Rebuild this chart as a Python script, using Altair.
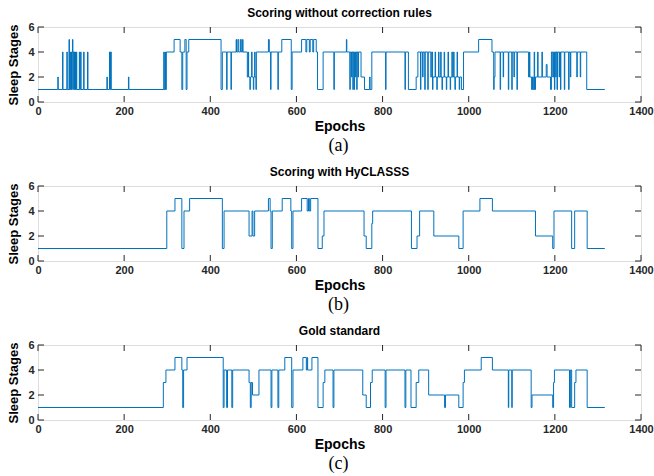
import altair as alt
import pandas as pd

# ---------------- data ----------------
END_EPOCH = 1316

titles = ["Scoring without correction rules", "Scoring with HyCLASSS", "Gold standard"]
captions = ["(a)", "(b)", "(c)"]

a_epochs = [0, 46, 47, 57, 58, 67, 68, 72, 73, 75, 76, 77, 78, 79, 80, 81, 82, 84, 85, 86, 87, 88, 89, 90,
            96, 97, 99, 100, 106, 107, 115, 116, 160, 161, 166, 168, 169, 170, 210, 211,
            292, 293, 295, 296, 298, 316, 330, 334, 336, 341, 344, 346, 350,
            425, 428, 438, 439, 448, 449, 460, 461, 464, 466, 470, 472, 475, 476,
            486, 488, 489, 492, 493, 496, 497, 500, 501, 503, 504, 506, 507,
            535, 537, 540, 541, 557, 558, 566, 588, 590, 612, 622, 624, 630, 632, 638, 640, 646, 649, 662,
            687, 688, 716, 717, 724, 725, 728, 729, 731, 732, 734, 735, 737, 738, 740, 741, 743, 744,
            750, 758, 770, 771, 775, 807, 808, 852, 853, 860, 878, 882,
            888, 889, 893, 894, 898, 899, 905, 906, 912, 914, 916, 917, 922, 923, 926, 927, 930, 931,
            935, 936, 938, 939, 943, 944, 948, 949, 952, 953, 957, 958, 961, 962, 965, 966, 968, 969,
            973, 974, 978, 979, 983, 988, 1023, 1054,
            1058, 1059, 1061, 1073, 1074, 1080, 1081, 1092, 1093, 1100, 1101, 1105, 1106, 1112, 1113,
            1139, 1141, 1142, 1146, 1148, 1150, 1152, 1153, 1155, 1160, 1161, 1170, 1171, 1180, 1182,
            1190, 1192, 1195, 1197, 1199, 1200, 1202, 1203, 1205, 1206, 1210, 1211, 1213, 1214,
            1222, 1223, 1232, 1233, 1236, 1237, 1251, 1252, 1259, 1260, 1274]
a_stages = [1, 2, 1, 4, 1, 4, 1, 5, 1, 4, 1, 4, 1, 4, 5, 1, 4, 1, 4, 1, 4, 1, 4, 1,
            4, 1, 4, 1, 4, 1, 4, 1, 2, 1, 4, 1, 4, 1, 2, 1,
            4, 1, 4, 1, 4, 5, 4, 1, 4, 5, 1, 4, 5,
            1, 4, 1, 4, 1, 4, 5, 4, 5, 4, 5, 4, 5, 4,
            2, 4, 2, 1, 2, 4, 2, 1, 2, 4, 2, 1, 4,
            5, 4, 1, 4, 1, 4, 5, 1, 4, 5, 4, 5, 4, 5, 4, 5, 4, 1, 4,
            1, 4, 5, 4, 1, 4, 2, 4, 1, 4, 1, 4, 2, 4, 1, 4, 2, 4,
            2, 1, 2, 1, 4, 1, 4, 1, 4, 1, 2, 4,
            1, 4, 2, 4, 1, 4, 1, 4, 2, 4, 1, 2, 4, 2, 1, 2, 4, 2,
            4, 2, 1, 2, 4, 2, 1, 2, 4, 2, 1, 2, 4, 2, 4, 2, 1, 2,
            4, 2, 1, 2, 1, 4, 5, 4,
            1, 2, 4, 1, 4, 2, 4, 1, 4, 1, 4, 2, 4, 1, 4,
            2, 4, 2, 1, 2, 1, 4, 1, 2, 4, 2, 4, 2, 3, 2,
            1, 4, 2, 4, 1, 4, 2, 4, 1, 4, 2, 4, 1, 4,
            1, 4, 1, 4, 2, 4, 2, 4, 2, 4, 1]

b_epochs = [0, 299, 318, 334, 339, 352, 428, 432, 490, 497, 499, 503, 535, 539, 541, 544, 567, 587, 589, 592,
            612, 625, 628, 630, 633, 650, 660, 664, 757, 762, 775, 777, 867, 880, 886, 919, 977, 987,
            1026, 1055, 1155, 1195, 1198, 1239, 1246, 1275]
b_stages = [1, 4, 5, 1, 4, 5, 1, 4, 2, 4, 2, 4, 5, 4, 1, 4, 5, 4, 1, 4,
            5, 4, 5, 4, 5, 1, 2, 4, 2, 1, 3, 4, 1, 2, 4, 2, 1, 4,
            5, 4, 2, 1, 4, 1, 4, 1]

c_epochs = [0, 291, 297, 318, 334, 336, 338, 346, 430, 432, 438, 440, 450, 452, 490, 493, 495, 498, 513,
            541, 543, 557, 559, 573, 589, 592, 615, 623, 625, 626, 636, 650, 662, 666, 685, 687,
            754, 762, 772, 776, 806, 808, 852, 854, 866, 878, 884, 907, 944, 946, 977, 987, 990,
            1029, 1055, 1092, 1093, 1100, 1101, 1145, 1147, 1195, 1197, 1199, 1234, 1236, 1239, 1246, 1249, 1275]
c_stages = [1, 3, 4, 5, 4, 1, 4, 5, 1, 4, 1, 4, 1, 4, 3, 1, 3, 2, 4,
            1, 4, 1, 4, 5, 1, 4, 5, 4, 5, 4, 5, 1, 3, 4, 1, 4,
            2, 1, 3, 4, 1, 4, 1, 4, 1, 3, 4, 2, 1, 2, 1, 3, 4,
            5, 4, 1, 4, 1, 4, 1, 2, 1, 3, 4, 1, 4, 1, 3, 4, 1]

x_ticks = [0, 200, 400, 600, 800, 1000, 1200, 1400]
y_ticks = [0, 2, 4, 6]

# ---------------- style ----------------
W, H = 603, 75
LINE = "#0072BD"
AX = "#262626"
SANS = "Liberation Sans"
SERIF = "Liberation Serif"
TL = 6  # inner tick length

XS = alt.Scale(domain=[0, 1400], nice=False, zero=False)
YS = alt.Scale(domain=[0, 6], nice=False)
XAXIS = alt.Axis(values=x_ticks, title="Epochs", ticks=False, domain=False, grid=False, format="d",
                 labelPadding=3, titlePadding=3, labelFlush=False,
                 labelFont=SANS, labelFontSize=11, labelFontWeight="bold", labelColor=AX,
                 titleFont=SANS, titleFontSize=14, titleFontWeight="bold", titleColor="#000000")
YAXIS = alt.Axis(values=y_ticks, title="Sleep Stages", ticks=False, domain=False, grid=False, format="d",
                 labelPadding=4, titlePadding=7, labelFlush=False,
                 labelFont=SANS, labelFontSize=11, labelFontWeight="bold", labelColor=AX,
                 titleFont=SANS, titleFontSize=13, titleFontWeight="bold", titleColor="#000000")


def panel(epochs, stages, title, caption):
    df = pd.DataFrame({"epoch": epochs + [END_EPOCH], "stage": stages + [stages[-1]]})

    line = alt.Chart(df).mark_line(
        interpolate="step-after", color=LINE, strokeWidth=1, clip=True
    ).encode(
        x=alt.X("epoch:Q", scale=XS, axis=XAXIS, title="Epochs"),
        y=alt.Y("stage:Q", scale=YS, axis=YAXIS, title="Sleep Stages"),
    )

    xt = pd.DataFrame({"epoch": x_ticks})
    yt = pd.DataFrame({"stage": y_ticks})
    xb = alt.Chart(xt).mark_rule(color=AX, strokeWidth=1).encode(
        x=alt.X("epoch:Q", scale=XS, axis=XAXIS, title="Epochs"), y=alt.value(H), y2=alt.value(H - TL))
    xtop = alt.Chart(xt).mark_rule(color=AX, strokeWidth=1).encode(
        x=alt.X("epoch:Q", scale=XS, axis=XAXIS, title="Epochs"), y=alt.value(0), y2=alt.value(TL))
    yl = alt.Chart(yt).mark_rule(color=AX, strokeWidth=1).encode(
        y=alt.Y("stage:Q", scale=YS, axis=YAXIS, title="Sleep Stages"), x=alt.value(0), x2=alt.value(TL))
    yr = alt.Chart(yt).mark_rule(color=AX, strokeWidth=1).encode(
        y=alt.Y("stage:Q", scale=YS, axis=YAXIS, title="Sleep Stages"), x=alt.value(W - TL), x2=alt.value(W))

    cap = alt.Chart(pd.DataFrame({"t": [caption]})).mark_text(
        font=SERIF, fontSize=18, color="#000000", baseline="middle", align="center"
    ).encode(text="t:N", x=alt.value(W / 2 - 1), y=alt.value(119))

    return alt.layer(line, xb, xtop, yl, yr, cap).properties(
        width=W, height=H,
        title=alt.TitleParams(title, font=SANS, fontSize=12, fontWeight="bold", color="#000000", offset=1),
    )


chart = alt.vconcat(
    panel(a_epochs, a_stages, titles[0], captions[0]),
    panel(b_epochs, b_stages, titles[1], captions[1]),
    panel(c_epochs, c_stages, titles[2], captions[2]),
    spacing=9,
).properties(
    padding={"left": 7, "top": 6, "right": 0, "bottom": 0}
).configure_view(
    stroke=AX, strokeWidth=1
).configure(
    background="white"
)

chart.save("out.html", embed_options={"renderer": "svg", "actions": False})
